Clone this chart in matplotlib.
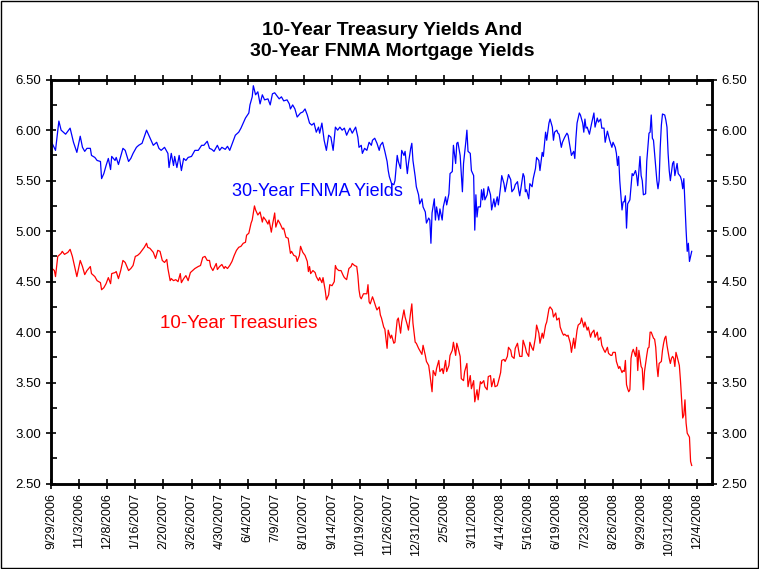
import matplotlib
matplotlib.use("Agg")
import matplotlib.pyplot as plt
from matplotlib.ticker import MultipleLocator
from matplotlib.patches import Rectangle

plt.rcParams['font.family'] = ['Liberation Sans', 'DejaVu Sans']

# trading-day index (0 = 9/29/2006) and yields
fnma_day = [1, 4, 7, 9, 11, 13, 17, 20, 23, 26, 28, 30, 32, 35, 36, 39, 41, 44, 45, 47,
            49, 51, 53, 54, 57, 58, 60, 62, 64, 66, 69, 71, 73, 76, 78, 81, 85, 87, 91, 94,
            96, 98, 101, 104, 105, 107, 109, 110, 112, 114, 116, 118, 120, 122, 125, 128, 131, 134, 136, 139,
            141, 143, 145, 148, 150, 152, 155, 157, 159, 161, 164, 167, 169, 171, 173, 176, 177, 179, 180, 182,
            184, 186, 188, 190, 193, 195, 197, 199, 201, 203, 205, 207, 210, 212, 213, 215, 217, 219, 222, 224,
            226, 228, 230, 232, 234, 236, 238, 239, 241, 243, 245, 247, 249, 251, 253, 255, 257, 259, 261, 263,
            265, 266, 268, 271, 273, 274, 276, 277, 279, 281, 283, 285, 286, 288, 290, 292, 293, 295, 297, 299,
            300, 301, 303, 305, 306, 308, 309, 311, 312, 314, 315, 317, 318, 320, 321, 322, 324, 325, 327, 328,
            330, 331, 333, 334, 336, 337, 338, 339, 341, 342, 343, 345, 346, 348, 349, 351, 352, 354, 355, 357,
            358, 360, 361, 362, 364, 365, 366, 367, 369, 370, 371, 373, 374, 376, 377, 378, 379, 380, 382, 383,
            384, 385, 386, 388, 389, 391, 392, 394, 395, 397, 398, 400, 401, 403, 404, 406, 407, 409, 410, 412,
            413, 415, 416, 417, 418, 420, 421, 422, 423, 425, 426, 428, 429, 431, 432, 434, 435, 437, 438, 440,
            441, 443, 444, 446, 447, 448, 450, 451, 452, 454, 455, 457, 459, 460, 462, 463, 465, 466, 467, 468,
            470, 471, 473, 474, 475, 476, 477, 479, 481, 483, 484, 486, 487, 489, 490, 492, 493, 495, 497, 499,
            500, 502, 503, 504, 505, 506, 508, 509, 510, 511, 512, 513, 515, 516, 517, 518, 520, 521, 522, 524,
            525, 526, 527, 529, 530, 532, 533, 534, 535, 536, 537, 539, 540, 541, 542, 543, 544, 546, 547, 548,
            549, 550, 551, 553, 554, 555, 557, 558, 560, 561, 562, 563, 564, 565, 566, 567, 568, 570]
fnma_yield = [5.87, 5.80, 6.09, 6.00, 5.98, 5.96, 6.02, 5.88, 5.78, 5.94, 5.83, 5.79, 5.82, 5.82, 5.75, 5.73, 5.70, 5.69, 5.52, 5.57,
              5.65, 5.72, 5.61, 5.74, 5.70, 5.73, 5.66, 5.74, 5.82, 5.80, 5.69, 5.72, 5.77, 5.83, 5.85, 5.87, 6.00, 5.95, 5.85, 5.88,
              5.82, 5.80, 5.83, 5.77, 5.63, 5.77, 5.65, 5.74, 5.63, 5.75, 5.60, 5.72, 5.70, 5.73, 5.74, 5.80, 5.80, 5.85, 5.85, 5.89,
              5.82, 5.81, 5.79, 5.85, 5.80, 5.83, 5.81, 5.84, 5.80, 5.86, 5.95, 5.98, 6.02, 6.07, 6.12, 6.17, 6.25, 6.33, 6.44, 6.35,
              6.38, 6.26, 6.35, 6.30, 6.31, 6.25, 6.36, 6.37, 6.34, 6.31, 6.33, 6.29, 6.30, 6.26, 6.21, 6.25, 6.21, 6.13, 6.17, 6.18,
              6.21, 6.15, 6.07, 6.05, 6.07, 5.98, 6.03, 5.97, 6.07, 5.90, 5.80, 5.95, 5.93, 5.80, 6.03, 6.00, 6.03, 6.00, 6.02, 5.95,
              6.00, 6.02, 5.97, 6.03, 5.93, 5.83, 5.85, 5.77, 5.82, 5.80, 5.88, 5.85, 5.90, 5.92, 5.87, 5.80, 5.85, 5.88, 5.79, 5.69,
              5.60, 5.54, 5.47, 5.46, 5.50, 5.75, 5.69, 5.62, 5.80, 5.75, 5.79, 5.57, 5.67, 5.82, 5.87, 5.70, 5.54, 5.44, 5.36, 5.27,
              5.32, 5.24, 5.19, 5.08, 5.13, 5.11, 4.88, 5.18, 5.32, 5.11, 5.24, 5.11, 5.22, 5.11, 5.24, 5.34, 5.26, 5.37, 5.57, 5.59,
              5.85, 5.67, 5.87, 5.88, 5.75, 5.57, 5.39, 5.67, 5.88, 6.00, 5.79, 5.77, 5.60, 5.55, 5.01, 5.36, 5.14, 5.24, 5.24, 5.41,
              5.31, 5.42, 5.31, 5.36, 5.44, 5.36, 5.21, 5.32, 5.24, 5.34, 5.26, 5.44, 5.55, 5.47, 5.39, 5.50, 5.56, 5.51, 5.39, 5.42,
              5.46, 5.49, 5.41, 5.35, 5.42, 5.57, 5.54, 5.39, 5.41, 5.32, 5.47, 5.44, 5.52, 5.62, 5.73, 5.70, 5.60, 5.78, 5.74, 5.98,
              5.90, 6.07, 6.11, 6.03, 5.90, 5.98, 6.00, 5.97, 5.96, 5.83, 5.88, 5.93, 5.97, 5.95, 5.82, 5.75, 5.79, 5.72, 5.92, 6.07,
              6.17, 6.15, 6.07, 5.98, 6.11, 6.02, 6.03, 5.96, 6.07, 6.17, 6.03, 6.12, 6.08, 6.11, 6.02, 6.02, 5.88, 5.99, 5.90, 5.83,
              5.88, 5.83, 5.77, 5.65, 5.74, 5.50, 5.21, 5.29, 5.29, 5.35, 5.03, 5.27, 5.31, 5.44, 5.57, 5.55, 5.60, 5.55, 5.45, 5.74,
              5.55, 5.50, 5.36, 5.37, 5.69, 5.97, 5.98, 6.15, 5.92, 5.90, 5.77, 5.50, 5.42, 5.50, 5.83, 6.05, 6.16, 6.15, 6.10, 6.03,
              5.77, 5.60, 5.50, 5.67, 5.69, 5.55, 5.67, 5.57, 5.54, 5.50, 5.42, 5.52, 5.27, 5.01, 4.80, 4.88, 4.70, 4.80]

tsy_day = [1, 3, 4, 6, 9, 10, 12, 15, 17, 19, 21, 23, 26, 28, 30, 32, 35, 36, 39, 41,
           44, 45, 47, 49, 51, 53, 54, 57, 58, 60, 62, 64, 66, 69, 71, 73, 75, 77, 79, 81,
           83, 85, 86, 88, 91, 93, 95, 97, 99, 101, 103, 104, 106, 107, 109, 111, 113, 115, 116, 118,
           120, 122, 124, 126, 128, 131, 133, 135, 137, 139, 141, 142, 144, 147, 148, 150, 152, 154, 155, 157,
           159, 161, 163, 165, 167, 169, 171, 173, 174, 176, 178, 179, 181, 182, 184, 186, 188, 189, 191, 193,
           194, 196, 197, 199, 200, 202, 204, 206, 207, 209, 211, 213, 214, 216, 218, 219, 221, 222, 224, 226,
           228, 229, 230, 231, 233, 235, 236, 238, 239, 241, 242, 244, 245, 247, 248, 250, 252, 253, 254, 256,
           258, 260, 261, 263, 265, 267, 268, 270, 272, 273, 274, 275, 276, 278, 279, 281, 282, 283, 284, 286,
           287, 289, 290, 292, 293, 294, 296, 297, 299, 300, 302, 303, 305, 306, 308, 309, 311, 312, 314, 315,
           317, 318, 320, 321, 322, 324, 325, 327, 328, 330, 331, 333, 334, 336, 337, 339, 340, 342, 343, 345,
           346, 348, 349, 351, 352, 354, 355, 357, 358, 360, 361, 362, 364, 365, 367, 368, 370, 371, 373, 374,
           376, 377, 379, 380, 382, 383, 385, 386, 388, 389, 391, 392, 394, 395, 397, 398, 400, 401, 403, 404,
           406, 407, 409, 410, 412, 413, 415, 416, 417, 419, 420, 422, 423, 425, 426, 428, 429, 431, 432, 434,
           435, 437, 438, 440, 441, 443, 444, 446, 447, 449, 450, 452, 453, 455, 456, 457, 459, 460, 462, 463,
           465, 466, 468, 469, 471, 472, 474, 475, 477, 478, 480, 481, 483, 484, 486, 487, 489, 490, 492, 493,
           495, 496, 498, 499, 500, 502, 503, 505, 506, 508, 509, 510, 511, 512, 513, 514, 515, 516, 517, 518,
           520, 521, 522, 523, 525, 526, 527, 528, 530, 531, 532, 533, 534, 536, 537, 538, 539, 540, 541, 543,
           544, 545, 546, 547, 548, 550, 551, 552, 553, 554, 555, 556, 557, 559, 560, 561, 562, 563, 564, 565,
           566, 567, 568, 569, 570]
tsy_yield = [4.63, 4.61, 4.55, 4.75, 4.78, 4.80, 4.77, 4.79, 4.82, 4.75, 4.65, 4.55, 4.71, 4.65, 4.57, 4.61, 4.65, 4.58, 4.55, 4.51,
             4.49, 4.42, 4.44, 4.48, 4.54, 4.48, 4.58, 4.59, 4.60, 4.53, 4.61, 4.71, 4.69, 4.61, 4.63, 4.66, 4.75, 4.76, 4.78, 4.81,
             4.84, 4.88, 4.84, 4.83, 4.79, 4.73, 4.81, 4.80, 4.71, 4.69, 4.72, 4.63, 4.51, 4.53, 4.51, 4.52, 4.50, 4.58, 4.49, 4.53,
             4.56, 4.51, 4.59, 4.61, 4.63, 4.65, 4.66, 4.74, 4.75, 4.71, 4.71, 4.65, 4.61, 4.68, 4.62, 4.65, 4.67, 4.63, 4.65, 4.63,
             4.66, 4.70, 4.76, 4.81, 4.84, 4.85, 4.88, 4.89, 4.96, 4.98, 5.08, 5.11, 5.25, 5.21, 5.16, 5.19, 5.09, 5.14, 5.11, 5.07,
             5.11, 4.99, 5.06, 5.18, 5.04, 5.11, 5.07, 5.02, 5.03, 4.94, 4.93, 4.78, 4.80, 4.76, 4.75, 4.70, 4.76, 4.85, 4.79, 4.76,
             4.70, 4.60, 4.65, 4.58, 4.61, 4.59, 4.55, 4.51, 4.54, 4.49, 4.54, 4.41, 4.32, 4.37, 4.47, 4.46, 4.50, 4.66, 4.63, 4.61,
             4.61, 4.56, 4.54, 4.52, 4.63, 4.65, 4.68, 4.66, 4.65, 4.56, 4.42, 4.35, 4.33, 4.38, 4.38, 4.38, 4.47, 4.30, 4.28, 4.35,
             4.32, 4.25, 4.22, 4.25, 4.17, 4.14, 4.05, 4.03, 3.84, 4.02, 3.94, 3.97, 3.89, 3.90, 4.12, 4.14, 3.99, 4.10, 4.22, 4.15,
             4.07, 4.02, 4.20, 4.28, 4.09, 3.90, 3.89, 3.84, 3.82, 3.78, 3.87, 3.77, 3.71, 3.67, 3.59, 3.41, 3.62, 3.57, 3.64, 3.72,
             3.61, 3.64, 3.59, 3.72, 3.61, 3.67, 3.77, 3.82, 3.90, 3.77, 3.89, 3.85, 3.76, 3.54, 3.52, 3.61, 3.69, 3.46, 3.57, 3.44,
             3.52, 3.31, 3.43, 3.33, 3.51, 3.49, 3.52, 3.46, 3.43, 3.56, 3.57, 3.46, 3.54, 3.46, 3.47, 3.51, 3.60, 3.72, 3.73, 3.71,
             3.76, 3.85, 3.82, 3.76, 3.74, 3.84, 3.89, 3.82, 3.76, 3.76, 3.92, 3.85, 3.80, 3.76, 3.90, 3.84, 3.82, 3.95, 4.07, 3.99,
             3.89, 3.99, 3.94, 4.07, 4.10, 4.23, 4.25, 4.22, 4.15, 4.19, 4.12, 4.14, 4.05, 3.99, 3.97, 3.98, 3.96, 3.97, 3.89, 3.80,
             3.94, 3.84, 4.02, 4.07, 4.09, 4.14, 4.05, 4.10, 4.02, 4.05, 3.95, 3.99, 4.02, 3.95, 4.00, 3.92, 3.95, 3.87, 3.82, 3.80,
             3.85, 3.79, 3.77, 3.77, 3.80, 3.80, 3.71, 3.64, 3.66, 3.60, 3.62, 3.61, 3.72, 3.48, 3.44, 3.41, 3.43, 3.74, 3.80, 3.83,
             3.76, 3.85, 3.62, 3.82, 3.66, 3.64, 3.43, 3.61, 3.77, 3.84, 3.85, 4.00, 4.00, 3.94, 3.93, 3.85, 3.67, 3.56, 3.69, 3.71,
             3.82, 3.89, 3.94, 3.96, 3.87, 3.74, 3.69, 3.74, 3.76, 3.74, 3.66, 3.80, 3.76, 3.67, 3.52, 3.33, 3.15, 3.18, 3.33, 3.10,
             3.00, 2.98, 2.96, 2.72, 2.68]

tick_labels = ['9/29/2006', '11/3/2006', '12/8/2006', '1/16/2007', '2/20/2007', '3/26/2007',
               '4/30/2007', '6/4/2007', '7/9/2007', '8/10/2007', '9/14/2007', '10/19/2007',
               '11/26/2007', '12/31/2007', '2/5/2008', '3/11/2008', '4/14/2008', '5/16/2008',
               '6/19/2008', '7/23/2008', '8/26/2008', '9/29/2008', '10/31/2008', '12/4/2008']
tick_days = [25 * i for i in range(len(tick_labels))]

fig = plt.figure(figsize=(7.59, 5.69), dpi=100)
ax = fig.add_axes([0.0672, 0.150, 0.8708, 0.710])

ax.plot(fnma_day, fnma_yield, color='#0000FF', lw=0.9)
ax.plot(tsy_day, tsy_yield, color='#FF0000', lw=0.9)

ax.set_xlim(0, 588)
ax.set_ylim(2.5, 6.5)
ax.yaxis.set_major_locator(MultipleLocator(0.5))
ax.yaxis.set_minor_locator(MultipleLocator(0.25))
ax.set_xticks(tick_days)
ax.set_xticklabels(tick_labels, rotation=90, fontsize=9)
ax.set_yticklabels(['%.2f' % v for v in ax.get_yticks()], fontsize=9.5)
ax.tick_params(which='major', direction='inout', length=7, width=1.2, top=True)
ax.tick_params(which='minor', direction='in', length=4, width=1.2)

ax2 = ax.twinx()
ax2.set_ylim(2.5, 6.5)
ax2.yaxis.set_major_locator(MultipleLocator(0.5))
ax2.yaxis.set_minor_locator(MultipleLocator(0.25))
ax2.set_yticklabels(['%.2f' % v for v in ax2.get_yticks()], fontsize=9.5)
ax2.tick_params(which='major', direction='inout', length=7, width=1.2)
ax2.tick_params(which='minor', direction='in', length=4, width=1.2)

for a in (ax, ax2):
    for s in a.spines.values():
        s.set_linewidth(1.8)

ax.text(161, 5.39, '30-Year FNMA Yields', color='#0000FF', fontsize=13, va='center')
ax.text(97, 4.09, '10-Year Treasuries', color='#FF0000', fontsize=13.5, va='center')

fig.text(0.517, 0.928, '10-Year Treasury Yields And\n30-Year FNMA Mortgage Yields',
         ha='center', va='center', fontsize=14, fontweight='bold', linespacing=1.3)

fig.patches.append(Rectangle((0.001, 0.001), 0.998, 0.998, transform=fig.transFigure,
                             fill=False, edgecolor='black', lw=1))

fig.savefig('out.png', dpi=100)
